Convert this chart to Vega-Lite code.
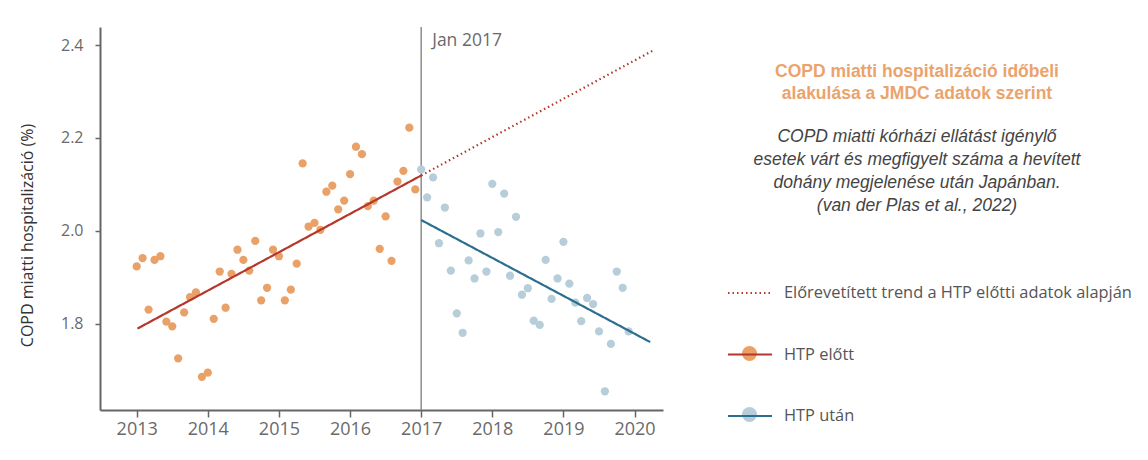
{
  "$schema": "https://vega.github.io/schema/vega-lite/v6.json",
  "width": 563,
  "height": 383,
  "autosize": "none",
  "padding": {"left": 100, "top": 27, "right": 485, "bottom": 50},
  "background": "white",
  "title": {
    "text": ["COPD miatti hospitalizáció időbeli", "alakulása a JMDC adatok szerint"],
    "subtitle": ["COPD miatti kórházi ellátást igénylő", "esetek várt és megfigyelt száma a hevített", "dohány megjelenése után Japánban.", "(van der Plas et al., 2022)"],
    "orient": "top",
    "anchor": "start",
    "frame": "group",
    "align": "center",
    "dx": 817,
    "dy": 188,
    "offset": 0,
    "font": "Liberation Sans",
    "fontSize": 17.5,
    "fontWeight": "bold",
    "color": "#EBA36C",
    "lineHeight": 22,
    "subtitleFont": "Liberation Sans",
    "subtitleFontSize": 17.5,
    "subtitleFontStyle": "italic",
    "subtitleColor": "#444444",
    "subtitleLineHeight": 23,
    "subtitlePadding": 25
  },
  "config": {
    "view": {"stroke": null},
    "axis": {
      "grid": false,
      "domainColor": "#666666",
      "domainWidth": 2,
      "tickColor": "#666666",
      "tickSize": 5,
      "tickWidth": 1.5,
      "labelColor": "#6a6a6a",
      "labelFont": "Open Sans",
      "labelFontSize": 16,
      "titleFont": "Open Sans",
      "titleFontSize": 16,
      "titleFontWeight": "normal",
      "titleColor": "#333333"
    }
  },
  "datasets": {
    "pts": [
      {"t": 2013.000, "v": 1.923, "g": "HTP előtt"},
      {"t": 2013.083, "v": 1.941, "g": "HTP előtt"},
      {"t": 2013.167, "v": 1.830, "g": "HTP előtt"},
      {"t": 2013.250, "v": 1.937, "g": "HTP előtt"},
      {"t": 2013.333, "v": 1.945, "g": "HTP előtt"},
      {"t": 2013.417, "v": 1.804, "g": "HTP előtt"},
      {"t": 2013.500, "v": 1.794, "g": "HTP előtt"},
      {"t": 2013.583, "v": 1.725, "g": "HTP előtt"},
      {"t": 2013.667, "v": 1.824, "g": "HTP előtt"},
      {"t": 2013.750, "v": 1.857, "g": "HTP előtt"},
      {"t": 2013.833, "v": 1.867, "g": "HTP előtt"},
      {"t": 2013.917, "v": 1.685, "g": "HTP előtt"},
      {"t": 2014.000, "v": 1.694, "g": "HTP előtt"},
      {"t": 2014.083, "v": 1.810, "g": "HTP előtt"},
      {"t": 2014.167, "v": 1.912, "g": "HTP előtt"},
      {"t": 2014.250, "v": 1.834, "g": "HTP előtt"},
      {"t": 2014.333, "v": 1.907, "g": "HTP előtt"},
      {"t": 2014.417, "v": 1.959, "g": "HTP előtt"},
      {"t": 2014.500, "v": 1.937, "g": "HTP előtt"},
      {"t": 2014.583, "v": 1.914, "g": "HTP előtt"},
      {"t": 2014.667, "v": 1.978, "g": "HTP előtt"},
      {"t": 2014.750, "v": 1.850, "g": "HTP előtt"},
      {"t": 2014.833, "v": 1.877, "g": "HTP előtt"},
      {"t": 2014.917, "v": 1.959, "g": "HTP előtt"},
      {"t": 2015.000, "v": 1.945, "g": "HTP előtt"},
      {"t": 2015.083, "v": 1.850, "g": "HTP előtt"},
      {"t": 2015.167, "v": 1.873, "g": "HTP előtt"},
      {"t": 2015.250, "v": 1.929, "g": "HTP előtt"},
      {"t": 2015.333, "v": 2.145, "g": "HTP előtt"},
      {"t": 2015.417, "v": 2.009, "g": "HTP előtt"},
      {"t": 2015.500, "v": 2.017, "g": "HTP előtt"},
      {"t": 2015.583, "v": 2.002, "g": "HTP előtt"},
      {"t": 2015.667, "v": 2.084, "g": "HTP előtt"},
      {"t": 2015.750, "v": 2.097, "g": "HTP előtt"},
      {"t": 2015.833, "v": 2.046, "g": "HTP előtt"},
      {"t": 2015.917, "v": 2.065, "g": "HTP előtt"},
      {"t": 2016.000, "v": 2.122, "g": "HTP előtt"},
      {"t": 2016.083, "v": 2.181, "g": "HTP előtt"},
      {"t": 2016.167, "v": 2.165, "g": "HTP előtt"},
      {"t": 2016.250, "v": 2.053, "g": "HTP előtt"},
      {"t": 2016.333, "v": 2.065, "g": "HTP előtt"},
      {"t": 2016.417, "v": 1.961, "g": "HTP előtt"},
      {"t": 2016.500, "v": 2.031, "g": "HTP előtt"},
      {"t": 2016.583, "v": 1.935, "g": "HTP előtt"},
      {"t": 2016.667, "v": 2.106, "g": "HTP előtt"},
      {"t": 2016.750, "v": 2.129, "g": "HTP előtt"},
      {"t": 2016.833, "v": 2.222, "g": "HTP előtt"},
      {"t": 2016.917, "v": 2.089, "g": "HTP előtt"},
      {"t": 2017.000, "v": 2.132, "g": "HTP után"},
      {"t": 2017.083, "v": 2.072, "g": "HTP után"},
      {"t": 2017.167, "v": 2.115, "g": "HTP után"},
      {"t": 2017.250, "v": 1.973, "g": "HTP után"},
      {"t": 2017.333, "v": 2.050, "g": "HTP után"},
      {"t": 2017.417, "v": 1.914, "g": "HTP után"},
      {"t": 2017.500, "v": 1.822, "g": "HTP után"},
      {"t": 2017.583, "v": 1.780, "g": "HTP után"},
      {"t": 2017.667, "v": 1.936, "g": "HTP után"},
      {"t": 2017.750, "v": 1.897, "g": "HTP után"},
      {"t": 2017.833, "v": 1.994, "g": "HTP után"},
      {"t": 2017.917, "v": 1.912, "g": "HTP után"},
      {"t": 2018.000, "v": 2.101, "g": "HTP után"},
      {"t": 2018.083, "v": 1.997, "g": "HTP után"},
      {"t": 2018.167, "v": 2.080, "g": "HTP után"},
      {"t": 2018.250, "v": 1.903, "g": "HTP után"},
      {"t": 2018.333, "v": 2.030, "g": "HTP után"},
      {"t": 2018.417, "v": 1.862, "g": "HTP után"},
      {"t": 2018.500, "v": 1.876, "g": "HTP után"},
      {"t": 2018.583, "v": 1.806, "g": "HTP után"},
      {"t": 2018.667, "v": 1.797, "g": "HTP után"},
      {"t": 2018.750, "v": 1.937, "g": "HTP után"},
      {"t": 2018.833, "v": 1.853, "g": "HTP után"},
      {"t": 2018.917, "v": 1.897, "g": "HTP után"},
      {"t": 2019.000, "v": 1.976, "g": "HTP után"},
      {"t": 2019.083, "v": 1.886, "g": "HTP után"},
      {"t": 2019.167, "v": 1.845, "g": "HTP után"},
      {"t": 2019.250, "v": 1.805, "g": "HTP után"},
      {"t": 2019.333, "v": 1.855, "g": "HTP után"},
      {"t": 2019.417, "v": 1.842, "g": "HTP után"},
      {"t": 2019.500, "v": 1.783, "g": "HTP után"},
      {"t": 2019.583, "v": 1.654, "g": "HTP után"},
      {"t": 2019.667, "v": 1.756, "g": "HTP után"},
      {"t": 2019.750, "v": 1.912, "g": "HTP után"},
      {"t": 2019.833, "v": 1.877, "g": "HTP után"},
      {"t": 2019.917, "v": 1.783, "g": "HTP után"}
    ],
    "trends": [
      {"t": 2013.01, "v": 1.789, "s": "HTP előtt"},
      {"t": 2017.0, "v": 2.119, "s": "HTP előtt"},
      {"t": 2017.0, "v": 2.119, "s": "Előrevetített trend a HTP előtti adatok alapján"},
      {"t": 2020.28, "v": 2.390, "s": "Előrevetített trend a HTP előtti adatok alapján"},
      {"t": 2017.0, "v": 2.023, "s": "HTP után"},
      {"t": 2020.22, "v": 1.760, "s": "HTP után"}
    ],
    "marker": [
      {"t": 2017.0, "v": 2.408, "label": "Jan 2017"}
    ]
  },
  "layer": [
    {
      "data": {"name": "marker"},
      "mark": {"type": "rule", "color": "#8c8c8c", "strokeWidth": 1.5},
      "encoding": {
        "x": {"field": "t", "type": "quantitative"}
      }
    },
    {
      "data": {"name": "pts"},
      "mark": {"type": "point", "filled": true, "size": 68, "opacity": 1},
      "encoding": {
        "x": {
          "field": "t",
          "type": "quantitative",
          "scale": {"domain": [2012.484, 2020.4], "nice": false, "zero": false},
          "axis": {"title": null, "values": [2013, 2014, 2015, 2016, 2017, 2018, 2019, 2020], "format": "d", "labelPadding": 3, "tickSize": 7, "labelFontSize": 18}
        },
        "y": {
          "field": "v",
          "type": "quantitative",
          "scale": {"domain": [1.6136, 2.439], "nice": false, "zero": false},
          "axis": {"title": "COPD miatti hospitalizáció (%)", "values": [1.8, 2.0, 2.2, 2.4], "format": ".1f", "labelPadding": 12, "titlePadding": 25, "titleY": 208}
        },
        "fill": {
          "field": "g",
          "type": "nominal",
          "scale": {"domain": ["HTP előtt", "HTP után"], "range": ["#E9A167", "#B7CEDA"]},
          "legend": {
            "orient": "none", "legendX": 642, "legendY": 319, "title": null,
            "symbolType": "circle", "symbolSize": 225, "symbolOpacity": 1, "symbolStrokeWidth": 0,
            "rowPadding": 45, "labelExpr": "''", "padding": 0, "labelFontSize": 15
          }
        }
      }
    },
    {
      "data": {"name": "trends"},
      "mark": {"type": "line", "strokeWidth": 2.2},
      "encoding": {
        "x": {"field": "t", "type": "quantitative"},
        "y": {"field": "v", "type": "quantitative"},
        "detail": {"field": "s"},
        "stroke": {
          "field": "s",
          "type": "nominal",
          "scale": {"domain": ["Előrevetített trend a HTP előtti adatok alapján", "HTP előtt", "HTP után"], "range": ["#B5372A", "#B5372A", "#2C6E8F"]},
          "legend": {
            "orient": "none", "legendX": 627, "legendY": 243, "title": null,
            "symbolType": "stroke", "symbolSize": 1936, "symbolStrokeWidth": 2,
            "rowPadding": 29.5, "labelOffset": 11, "labelFont": "Open Sans", "labelFontSize": 16.4,
            "labelColor": "#555555", "padding": 0, "labelLimit": 600
          }
        },
        "strokeDash": {
          "field": "s",
          "type": "nominal",
          "scale": {"domain": ["Előrevetített trend a HTP előtti adatok alapján", "HTP előtt", "HTP után"], "range": [[1.5, 3], [1, 0], [1, 0]]},
          "legend": {
            "orient": "none", "legendX": 627, "legendY": 243, "title": null,
            "symbolType": "stroke", "symbolSize": 1936, "symbolStrokeWidth": 2,
            "rowPadding": 29.5, "labelOffset": 11, "labelFont": "Open Sans", "labelFontSize": 16.4,
            "labelColor": "#555555", "padding": 0, "labelLimit": 600
          }
        }
      }
    },
    {
      "data": {"name": "marker"},
      "mark": {"type": "text", "align": "left", "baseline": "middle", "dx": 11, "font": "Open Sans", "fontSize": 17.5, "color": "#6a6a6a"},
      "encoding": {
        "x": {"field": "t", "type": "quantitative"},
        "y": {"field": "v", "type": "quantitative"},
        "text": {"field": "label"}
      }
    }
  ]
}
